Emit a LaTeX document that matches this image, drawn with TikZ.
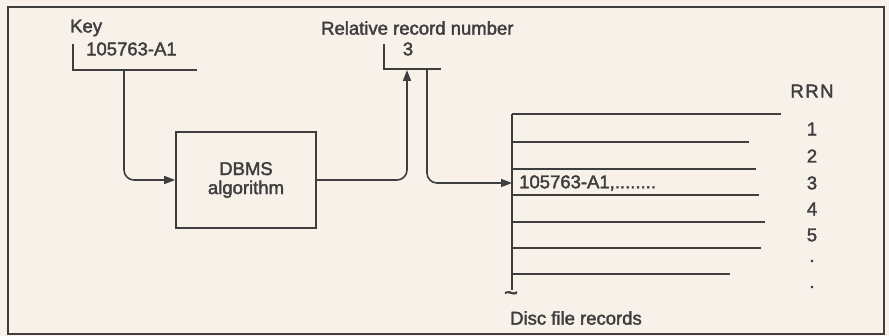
\documentclass[tikz,border=0pt]{standalone}
\usepackage{fontspec}
\setmainfont{Liberation Sans}[FakeBold=2]
\usetikzlibrary{arrows.meta}
\definecolor{paper}{HTML}{F7F1EA}
\definecolor{ink}{HTML}{3E3E3E}
\tikzset{
  lbl/.style={inner sep=0pt, text=ink, font=\fontsize{18.5}{21}\selectfont},
  conn/.style={draw=ink, line width=1.6pt, rounded corners=10pt, -{Triangle[length=11pt,width=8pt]}},
  bar/.style={draw=ink, line width=1.6pt},
  rec/.style={draw=ink, line width=1.2pt},
}
\begin{document}
\begin{tikzpicture}[x=1pt,y=-1pt]
\useasboundingbox (0,0) rectangle (889,336);
\fill[paper] (0,0) rectangle (889,336);
\draw[ink, line width=2pt] (8,7) rectangle (884,334);

% key
\node[lbl, anchor=west] (keylbl) at (70,28) {Key};
\node[lbl, anchor=west] (keyval) at (86,49) {105763-A1};
\draw[bar] (73,44) -- (73,70) -- (197,70);
\coordinate (keyout) at (124,70);

% rrn field
\node[lbl, anchor=west] (rrnlbl) at (321,28) {Relative record number};
\node[lbl] (rrnval) at (408,49) {3};
\draw[bar] (384,44) -- (384,69) -- (441,69);
\coordinate (rrnin) at (407,70);
\coordinate (rrnout) at (427,69);

% algorithm box
\node[draw=ink, line width=1.6pt, minimum width=140pt, minimum height=96pt, inner sep=0pt,
      align=center, text=ink, font=\fontsize{18.5}{19}\selectfont] (algo) at (246,180) {DBMS\\algorithm};

% disc records
\draw[ink, line width=2pt] (512,114) -- (512,290);
\draw[rec] (512,114) -- (781,114);
\draw[rec] (512,142) -- (749,142);
\draw[rec] (512,169) -- (756,169);
\draw[rec] (512,195) -- (759,195);
\draw[rec] (512,222) -- (765,222);
\draw[rec] (512,248) -- (761,248);
\draw[rec] (512,274) -- (730,274);
\node[lbl, font=\fontsize{24}{24}\selectfont] (tilde) at (511,296) {\char"7E};
\coordinate (recin) at (512,183);
\node[lbl, anchor=west] (rec3) at (519,183) {105763-A1,........};
\node[lbl, anchor=west] (disc) at (510,318) {Disc file records};

% RRN column
\node[lbl] (rrnhead) at (812,91) {R\kern1.5pt R\kern1.5pt N};
\node[lbl] (n1) at (812,129) {1};
\node[lbl] (n2) at (812,156) {2};
\node[lbl] (n3) at (812,183) {3};
\node[lbl] (n4) at (812,209) {4};
\node[lbl] (n5) at (812,235) {5};
\node[lbl] (n6) at (812,261) {.};
\node[lbl] (n7) at (812,287) {.};

% connectors
\draw[conn] (keyout) |- (algo.west);
\draw[conn] (algo.east) -| (rrnin);
\draw[conn] (rrnout) |- (recin);
\end{tikzpicture}
\end{document}
